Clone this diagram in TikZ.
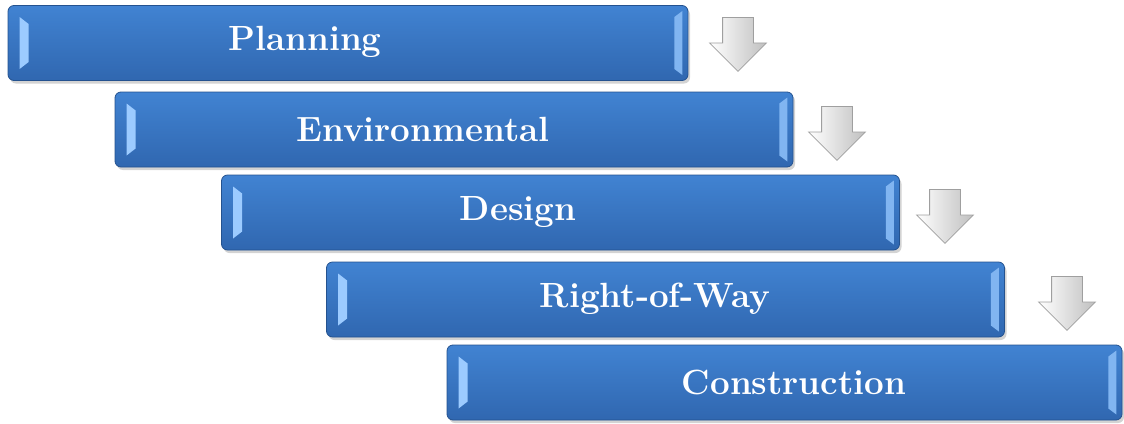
\documentclass[tikz,border=0pt]{standalone}
\usepackage{tikz}
\usetikzlibrary{shapes.arrows, shadows, calc}

\definecolor{stagetop}{HTML}{4183D2}
\definecolor{stagebot}{HTML}{3067B0}
\definecolor{stageline}{HTML}{24528F}
\definecolor{bevel}{HTML}{9CCBFF}

\tikzset{
	stage/.style={draw=stageline, line width=0.8pt, rounded corners=6pt,
		top color=stagetop, bottom color=stagebot,
		minimum width=678pt, minimum height=75pt, inner sep=0pt,
		drop shadow={shadow xshift=2pt, shadow yshift=-3pt, opacity=0.35}},
	stagetext/.style={text=white, font=\bfseries\fontsize{35}{40}\selectfont},
	downarrow/.style={single arrow, rotate=-90, draw=gray!75, line width=0.8pt,
		left color=white, right color=gray!50,
		minimum height=54pt, minimum width=56pt, single arrow head extend=13pt,
		inner sep=15pt, anchor=tail}
}

\begin{document}
\begin{tikzpicture}[x=1pt, y=-1pt]
	\useasboundingbox (0,0) rectangle (1124,423);

	% stages
	\node[stage, minimum width=680pt] (plan)   at (348,43)      {};
	\node[stage] (env)    at (454,129.5)   {};
	\node[stage] (design) at (560.5,212.5) {};
	\node[stage] (row)    at (665.5,299.5) {};
	\node[stage, minimum width=675pt] (build)  at (784.5,382.5) {};

	% bevels
	\foreach \s in {plan, env, design, row, build} {
		\fill[bevel] ($(\s.west)+(12,-26)$) -- ++(9,7) -- ++(0,38) -- ++(-9,7) -- cycle;
		\fill[bevel!70!stagetop] ($(\s.east)+(-6,-32)$) -- ++(0,64) -- ++(-8,-6) -- ++(0,-52) -- cycle;
	}

	% labels
	\node[stagetext] (plan-t)   at (305,42)  {Planning};
	\node[stagetext] (env-t)    at (423,129) {Environmental};
	\node[stagetext] (design-t) at (518,212) {Design};
	\node[stagetext] (row-t)    at (655,299) {Right-of-Way};
	\node[stagetext] (build-t)  at (794,382) {Construction};

	% arrows
	\node[downarrow] (a1) at (738,17)  {};
	\node[downarrow] (a2) at (837,106) {};
	\node[downarrow] (a3) at (945,189) {};
	\node[downarrow] (a4) at (1067,276) {};
\end{tikzpicture}
\end{document}
